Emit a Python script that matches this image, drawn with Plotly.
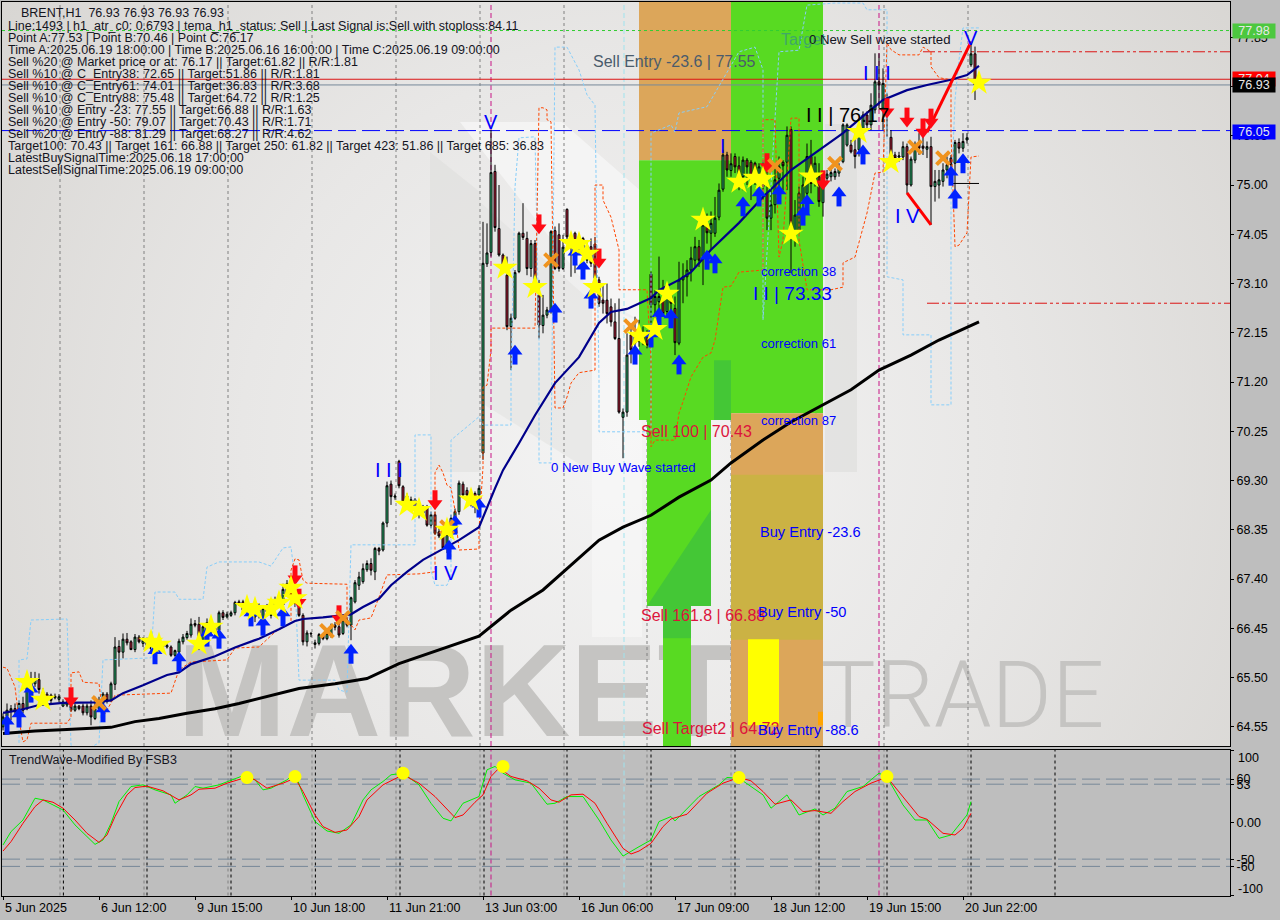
import base64
import plotly.graph_objects as go

# ---------- candles (bar index = position in the list) ----------
opens = [
64.55,64.75,64.86,64.90,64.71,65.00,64.90,65.26,65.38,65.46,
65.22,65.18,65.16,65.11,65.08,64.95,64.97,64.97,64.87,64.95,
64.95,64.82,64.95,64.71,64.90,65.00,65.18,65.06,65.37,66.10,
65.99,66.24,66.19,66.04,66.28,66.16,66.22,66.19,66.06,66.10,
66.10,66.09,66.09,65.93,65.99,66.19,66.27,66.32,66.54,66.53,
66.19,66.38,66.57,66.38,66.41,66.75,66.67,66.70,66.75,66.96,
66.96,66.77,66.83,66.67,66.86,66.66,66.86,66.70,66.83,66.93,
66.90,67.12,67.31,67.19,66.88,66.70,66.19,66.34,66.14,66.16,
66.32,66.25,66.32,66.51,66.48,66.35,66.61,66.51,66.96,67.28,
67.35,67.58,67.70,67.54,67.99,67.96,68.48,69.23,68.98,69.67,
69.18,69.00,68.83,68.93,68.83,68.67,68.80,68.44,68.64,68.31,
68.25,68.00,68.25,68.57,68.70,69.23,69.11,69.05,69.05,69.02,
69.83,73.48,73.70,75.26,74.16,73.65,73.26,72.27,72.43,73.33,
74.07,73.97,73.39,73.87,72.88,72.29,72.49,72.59,74.12,74.04,
73.39,74.53,74.00,74.07,73.78,73.97,73.55,73.81,73.86,73.17,
72.78,72.78,72.65,72.36,72.04,70.52,70.62,72.11,71.95,72.20,
71.98,72.11,73.28,72.69,72.75,72.78,72.56,72.85,72.62,71.95,
73.17,73.23,73.36,73.55,73.81,73.62,74.23,74.07,74.07,74.38,
74.92,75.58,75.28,75.55,75.37,75.16,75.48,75.44,75.42,75.16,
74.97,74.84,74.36,74.62,75.13,75.44,75.44,76.07,74.07,74.13,
74.68,74.84,75.55,75.10,75.16,74.66,75.13,75.16,75.16,75.23,
75.45,75.77,75.77,75.68,75.68,76.00,76.35,76.16,76.45,76.99,
76.48,76.67,75.92,75.58,75.54,75.54,75.74,75.00,75.48,75.79,
75.75,75.69,75.74,74.97,75.00,75.07,75.29,75.52,75.42,75.82,
75.71,75.87,77.32,77.53]
highs = [
64.81,65.00,64.97,65.00,65.06,65.13,65.58,65.61,65.61,65.58,
65.29,65.22,65.19,65.19,65.18,65.08,65.06,65.03,64.99,64.97,
65.00,65.00,65.06,65.13,65.13,65.22,65.22,65.42,66.28,66.22,
66.35,66.36,66.22,66.34,66.32,66.28,66.27,66.23,66.22,66.25,
66.19,66.16,66.12,66.04,66.25,66.34,66.40,66.64,66.61,66.67,
66.54,66.64,66.64,66.51,66.79,66.80,66.77,66.79,66.98,67.00,
67.00,66.94,66.90,66.86,66.93,66.90,66.92,67.00,67.06,67.12,
67.31,67.38,67.44,67.31,66.93,66.74,66.41,66.38,66.23,66.36,
66.35,66.41,66.54,66.57,66.54,66.67,66.66,67.06,67.38,67.54,
67.70,67.76,67.80,68.02,68.02,68.51,69.28,69.30,69.05,69.70,
69.21,69.05,68.99,68.96,68.89,68.83,68.83,68.70,68.70,68.38,
68.31,68.31,68.64,68.76,69.30,69.28,69.17,69.12,69.09,69.21,
74.29,74.26,76.06,75.39,75.00,73.68,73.62,72.52,73.36,74.10,
74.65,74.10,73.94,73.94,73.17,72.88,72.65,74.13,74.20,74.26,
74.04,74.55,74.07,74.10,74.04,74.00,73.94,73.97,74.00,73.23,
73.10,73.10,72.81,72.72,72.81,70.69,72.14,72.30,72.46,72.40,
72.27,72.20,73.33,72.97,73.62,73.17,73.04,72.94,72.85,73.52,
73.49,73.55,73.81,74.00,73.94,74.45,74.45,74.49,74.77,75.03,
75.68,75.64,75.61,75.61,75.55,75.55,75.52,75.48,75.45,75.42,
75.48,75.55,74.90,75.42,75.55,75.48,76.13,76.13,74.71,74.97,
75.16,75.80,75.87,75.55,75.42,75.23,75.29,75.32,75.32,75.42,
76.19,76.19,75.87,76.00,76.13,76.42,76.42,76.77,77.54,77.54,
77.25,76.77,76.06,75.64,75.64,75.84,75.80,75.55,75.84,76.00,
76.00,75.84,75.93,75.29,75.29,75.42,75.55,75.58,75.87,75.90,
76.00,76.00,77.77,77.67]
lows = [
64.48,64.58,64.68,64.74,64.65,64.81,64.87,65.19,65.32,65.19,
65.03,65.06,65.00,65.08,65.03,64.93,64.93,64.84,64.84,64.87,
64.77,64.77,64.58,64.68,64.87,64.97,65.00,65.03,65.26,65.71,
65.87,66.12,66.03,65.99,66.16,66.09,66.06,65.99,65.96,66.06,
66.06,66.06,65.90,65.90,65.74,66.14,66.23,66.27,66.47,66.03,
66.16,66.32,66.35,66.32,66.25,66.61,66.64,66.67,66.70,66.88,
66.74,66.70,66.57,66.57,66.64,66.61,66.70,66.64,66.77,66.86,
66.83,67.06,67.02,66.86,66.67,66.12,66.10,66.28,66.06,66.12,
66.22,66.22,66.27,66.41,66.27,66.32,66.47,66.22,66.93,67.19,
67.31,67.54,67.47,67.38,67.86,67.93,68.40,68.83,68.93,69.15,
68.83,68.80,68.73,68.67,68.57,68.60,68.41,68.38,68.25,68.19,
67.96,67.90,68.19,68.51,68.64,68.96,68.96,68.80,68.67,68.64,
69.70,73.42,73.62,74.10,73.62,73.30,72.20,71.43,72.40,73.30,
73.94,73.26,73.23,73.12,72.04,72.14,72.43,72.52,73.36,73.33,
73.36,73.94,73.23,73.30,73.65,73.36,73.49,73.42,73.04,72.65,
72.52,72.33,72.27,72.01,70.59,69.73,70.53,71.56,71.69,71.88,
71.91,71.85,72.14,72.20,72.52,72.46,72.49,72.46,71.72,71.91,
72.72,72.85,73.14,73.42,73.42,73.07,73.87,73.75,74.00,74.32,
74.87,75.16,75.16,75.23,74.90,74.90,75.00,74.71,75.00,74.78,
74.71,74.13,74.13,74.45,74.71,74.90,74.90,73.30,73.81,74.07,
74.39,74.71,74.84,74.97,74.58,74.39,75.07,75.07,75.10,75.16,
75.42,75.74,75.61,75.32,75.55,75.93,76.09,76.06,76.38,76.48,
76.06,75.93,75.52,75.45,75.45,75.48,74.84,74.97,75.42,75.58,
75.58,75.52,74.23,74.68,74.74,74.97,75.13,75.03,74.87,75.61,
75.64,75.80,77.28,76.64]
closes = [
64.74,64.87,64.90,64.84,65.00,64.87,65.42,65.45,65.46,65.27,
65.10,65.10,65.06,65.14,65.13,65.03,65.03,64.87,64.95,64.90,
64.82,64.95,64.74,64.90,65.06,65.18,65.06,65.38,66.09,65.99,
66.24,66.17,66.04,66.28,66.19,66.22,66.12,66.06,66.16,66.19,
66.14,66.12,65.93,66.02,66.20,66.28,66.35,66.53,66.51,66.28,
66.48,66.56,66.41,66.45,66.75,66.66,66.72,66.75,66.95,66.92,
66.80,66.90,66.67,66.80,66.74,66.83,66.77,66.93,66.99,67.06,
67.20,67.31,67.09,66.93,66.70,66.19,66.36,66.35,66.17,66.33,
66.25,66.35,66.49,66.47,66.32,66.61,66.51,67.04,67.33,67.44,
67.60,67.70,67.57,67.99,67.94,68.48,69.20,68.99,69.00,69.20,
68.89,68.86,68.93,68.76,68.64,68.80,68.44,68.64,68.28,68.23,
68.00,68.26,68.57,68.70,69.25,69.02,69.02,68.93,68.86,69.15,
73.49,73.69,75.24,74.18,73.65,73.36,72.27,72.43,73.31,74.07,
73.99,73.39,73.87,73.17,72.30,72.49,72.59,74.10,73.39,73.39,
73.80,74.00,73.81,73.84,73.87,73.78,73.83,73.49,73.20,72.72,
72.72,72.52,72.36,72.04,70.62,70.62,71.72,71.82,72.07,71.98,
72.14,71.91,72.69,72.85,72.85,72.52,72.85,72.72,71.96,73.17,
73.23,73.36,73.59,73.81,73.55,74.23,74.08,74.26,74.36,74.90,
75.58,75.29,75.41,75.35,75.19,75.48,75.35,75.16,75.16,75.35,
75.23,74.36,74.62,75.10,75.35,75.37,75.96,74.20,74.42,74.84,
75.00,75.55,75.03,75.42,74.68,75.10,75.21,75.24,75.26,75.32,
76.16,76.16,75.64,75.55,76.06,76.35,76.16,76.54,76.99,76.93,
76.96,76.51,75.58,75.52,75.56,75.74,75.00,75.50,75.74,75.71,
75.71,75.74,74.97,75.07,75.10,75.29,75.39,75.39,75.82,75.71,
75.84,75.91,77.53,76.93]
bars = list(range(len(closes)))

# ---------- moving averages ----------
ma_fast_i = [0,4,9,15,23,27,30,35,41,44,47,53,58,64,69,73,75,80,87,90,94,97,101,104,105,114,119,123,125,129,133,138,144,149,152,156,159,162,164,169,172,177,184,190,197,204,210,216,220,226,231,237,241,244]
ma_fast_p = [64.82,64.87,64.97,65.01,65.02,65.06,65.20,65.35,65.55,65.60,65.76,65.91,66.08,66.25,66.43,66.59,66.63,66.66,66.72,66.86,67.02,67.28,67.54,67.70,67.77,68.15,68.40,69.15,69.50,70.02,70.56,71.18,71.68,72.34,72.55,72.61,72.72,72.82,72.97,73.17,73.32,73.75,74.27,74.77,75.29,75.68,76.00,76.39,76.64,76.83,76.93,77.03,77.12,77.30]
ma_slow_i = [0,8,16,25,27,33,39,46,53,59,66,74,83,91,99,104,119,127,135,142,149,155,162,169,177,182,190,197,204,212,219,227,234,244]
ma_slow_p = [64.42,64.47,64.50,64.53,64.54,64.65,64.71,64.81,64.90,65.00,65.13,65.29,65.38,65.48,65.77,65.90,66.30,66.80,67.19,67.67,68.15,68.40,68.63,68.98,69.31,69.64,70.08,70.43,70.72,71.05,71.43,71.72,72.01,72.36]

# ---------- step bands ----------
band_low_i = [0,1,3,4,5,6,7,16,17,17,19,20,24,25,27,28,42,44,47,56,58,64,68,72,72,73,74,75,76,86,86,88,89,92,94,96,104,108,108,109,110,111,112,113,114,119,119,120,120,121,122,122,133,134,135,136,136,137,138,140,141,142,144,148,148,149,150,150,152,154,154,161,162,162,163,168,169,170,172,175,177,178,180,182,184,190,190,193,194,195,197,199,199,201,207,210,210,213,214,216,218,220,221,222,224,229,230,232,232,234,237,237,238,239,241,242,244]
band_low_p = [65.70,65.68,65.32,64.68,64.26,64.30,64.62,64.62,64.74,65.59,65.61,65.41,65.39,64.74,65.01,65.16,65.20,65.65,65.80,65.84,66.07,66.09,66.38,66.55,67.57,67.79,67.77,67.38,67.32,67.30,66.61,66.42,66.61,66.65,67.05,67.48,67.50,67.54,69.45,69.60,69.45,69.21,69.16,68.73,67.96,67.98,68.35,69.56,71.10,71.14,71.82,72.24,72.24,76.49,76.49,76.45,76.26,76.22,70.70,70.70,70.91,71.18,71.38,71.43,75.00,75.00,75.00,74.71,74.38,73.75,72.98,72.98,71.62,69.95,70.08,70.08,70.60,70.82,71.30,71.68,71.76,72.01,73.03,73.05,73.32,73.36,76.26,76.26,73.61,73.94,76.29,76.29,73.94,72.98,72.98,73.03,73.50,73.61,73.88,74.46,75.23,75.25,77.74,77.61,77.51,77.51,77.66,77.57,77.28,77.07,77.03,76.00,73.81,73.84,74.08,75.54,75.56]
band_up_i = [4,4,6,7,16,17,17,18,24,24,25,37,38,43,44,50,51,54,64,67,70,72,73,74,83,84,86,87,102,103,103,107,107,108,111,112,112,119,120,127,127,128,129,133,134,134,137,138,141,144,146,148,149,149,149,159,162,162,167,168,169,176,184,188,190,190,194,199,201,208,215,216,221,221,225,225,232,232,237,237,238,239,240,244]
band_up_p = [64.24,65.84,65.86,66.61,66.63,64.55,64.20,64.00,64.24,64.24,65.84,65.88,67.15,67.15,67.01,67.01,67.63,67.73,67.73,67.65,68.00,68.02,67.38,65.45,65.45,65.26,65.22,68.06,68.06,68.06,70.18,70.18,67.57,67.28,67.28,67.48,70.08,70.53,70.37,70.37,71.24,74.96,75.91,75.93,72.01,69.64,69.64,77.66,77.66,77.22,76.74,76.54,71.24,71.05,70.24,70.24,70.24,76.00,76.16,76.02,76.39,76.51,77.57,77.66,77.22,72.40,77.57,77.60,78.47,78.51,78.51,78.38,78.38,73.23,73.17,72.11,72.11,70.76,70.76,74.71,76.64,77.41,78.03,78.03]

# ---------- signal markers ----------
star_i = [6,10,37,39,49,52,61,63,67,69,72,73,101,104,111,117,125.5,133,142,144,146,148,159,163,166,175,184,188,190,197,202,214,222,244]
star_p = [65.41,65.07,66.19,66.13,66.15,66.48,66.86,66.82,66.82,66.94,67.23,67.03,68.83,68.73,68.35,68.93,73.40,73.03,73.88,73.86,73.67,73.03,72.09,72.22,72.90,74.33,75.06,75.14,75.12,74.06,75.16,76.02,75.44,76.97]
up_i = [1,4,7,25,38,44,51,54,62,65,70,87,111.5,113,119,128,138,143,145,147,158,162,164,167,169,176,178,185,189,194,200,201,209,215,237,238,240]
up_p = [64.58,64.72,65.20,64.82,65.94,65.80,66.28,66.24,66.67,66.49,66.67,65.95,67.96,68.44,68.77,71.72,72.53,73.63,73.36,72.80,71.72,72.05,72.44,72.42,71.53,73.55,73.48,74.58,74.77,74.81,74.40,74.62,74.77,75.58,75.17,74.73,75.41]
down_i = [17,73,74,84,108,134,149,191,205,221,226,232,230]
down_p = [65.13,67.48,67.03,66.71,68.93,74.25,73.59,75.43,75.10,76.49,76.31,76.29,76.10]
cross_i = [24,81,85,111,137,157,193,208,228,235]
cross_p = [65.01,66.40,66.65,68.40,73.55,72.28,75.37,75.41,75.73,75.52]

# ---------- wave legs ----------
leg4_i = [226,232]
leg4_p = [74.85,74.23]
leg5_i = [231,242]
leg5_p = [76.02,77.76]
stub_i = [237,244]
stub_p = [75.03,75.03]

# ---------- oscillator ----------
osc_red_i = [0,2,5,8,10,12.5,15,18,21,24,26,28,31,33,36,40,44,47,49,53,56,61,63,66,70,73,75,78,80,83,86,89,91,95,100,104,108,113,115,118,120,122,124,127,131,134,137,139,142,145,148,151,155,157,159,162,165,167,171,176,180,184,187,190,193,197,200,203,207,210,213,217,221,224,229,231,235,238,240,242]
osc_red_v = [-38.9,-26.0,-0.7,22.2,31.4,28.2,20,3.8,-14.5,-27,-16.8,8.5,38.3,48.4,50.3,43.9,31.4,38.3,46.1,47.5,54.4,62.7,59,47.5,54.4,61.3,42.9,10.7,-5.3,-13.2,-9.9,8.5,31.4,52.1,65.9,54.4,36,7.1,10.7,28.2,38.3,63.6,75.1,63.6,57.6,47.5,31.4,28.2,38.3,39.3,26.8,-0.7,-35.2,-43,-38.9,-28.3,-5.3,5.2,11.7,40.6,54.4,62.2,57.6,42.9,25.5,31.4,15.3,16.7,13,29.1,42.9,54.4,62.7,42.9,8.5,4.8,-14.5,-16.8,-7.6,13]
osc_green_i = [0,2,5,8,10,15,18,21,23,25,27,29,32,35,38,42,43,46,48,50,54,60,63,65,67,71,73,75,78,81,84,87,90,92,95,97,100,104,107,110,112,115,119,121,123,125,128,132,136,138,141,145,149,152,155,159,162,164,167,168,174,179,181,184,190,192,196,199,203,205,208,211,215,219,221,225,228,231,234,237,241,242]
osc_green_v = [-30.6,-12.2,3.8,33.7,31.4,17.6,-3,-19.1,-29.7,-23.7,-0.7,29.1,49.8,52.1,45.2,38.3,26.8,38.3,49.8,47.5,52.1,64.6,59,45.2,47.5,59,68.2,38.3,1.6,-11.3,-14.5,-3,31.4,45.2,56.7,65.9,68.2,52.1,26.8,6.2,2.5,26.8,36,72.8,77.4,68.2,59,54.4,25.5,26.8,36,36,3.8,-23.7,-45.8,-32.9,-23.7,1.6,8.5,2.5,36,52.1,62.2,61.3,38.3,20,38.3,10.7,19,10.7,20,42.9,49.8,68.2,62.7,24.5,3.8,3.8,-21.4,-16.8,10.7,29.1]
osc_dot_i = [61,73,100,125,184,221]
osc_dot_v = [62.2,63.6,68.2,77.4,62.2,63.6]
osc_levels = [60,53,-50,-60]

# ---------- levels, grid, axes ----------
price_ticks = [64.55,65.50,66.45,67.40,68.35,69.30,70.25,71.20,72.15,73.10,74.05,75.00,75.95,76.90,77.85]
time_tick_bars = [0,24,48,72,96,120,144,168,192,216,240]
time_tick_text = ["5 Jun 2025","6 Jun 12:00","9 Jun 15:00","10 Jun 18:00","11 Jun 21:00","13 Jun 03:00","16 Jun 06:00","17 Jun 09:00","18 Jun 12:00","19 Jun 15:00","20 Jun 22:00"]
grid_gray = [14.25,35.25,56.25,77.25,98.25,119.25,140.25,161,182,203.25,220.25,241.25]
grid_black = [15.1,36,57,78.1,99.25,120.25,141,162,183,204,221,242,263]
magenta_bars = [122,219]
cyan_bars = [155.25]

info_lines = [
"Line:1493 | h1_atr_c0: 0.6793 | tema_h1_status: Sell | Last Signal is:Sell with stoploss:84.11",
"Point A:77.53 | Point B:70.46 | Point C:76.17",
"Time A:2025.06.19 18:00:00 | Time B:2025.06.16 16:00:00 | Time C:2025.06.19 09:00:00",
"Sell %20 @ Market price or at: 76.17 || Target:61.82 || R/R:1.81",
"Sell %10 @ C_Entry38: 72.65 || Target:51.86 || R/R:1.81",
"Sell %10 @ C_Entry61: 74.01 || Target:36.83 || R/R:3.68",
"Sell %10 @ C_Entry88: 75.48 || Target:64.72 || R/R:1.25",
"Sell %10 @ Entry -23: 77.55 || Target:66.88 || R/R:1.63",
"Sell %20 @ Entry -50: 79.07 || Target:70.43 || R/R:1.71",
"Sell %20 @ Entry -88: 81.29 || Target:68.27 || R/R:4.62",
"Target100: 70.43 || Target 161: 66.88 || Target 250: 61.82 || Target 423: 51.86 || Target 685: 36.83",
"LatestBuySignalTime:2025.06.18 17:00:00",
"LatestSellSignalTime:2025.06.19 09:00:00",
]

FONT = "Liberation Sans"
TXT = 12.5
W, H = 1280, 920
def px(x): return x / W
def py(y): return 1 - y / H

# ---------- background picture ----------
svg = """<svg xmlns='http://www.w3.org/2000/svg' width='1228' height='744'>
<defs><radialGradient id='g' gradientUnits='userSpaceOnUse' cx='620' cy='440' r='760'>
<stop offset='0' stop-color='#f4f4f4'/><stop offset='0.5' stop-color='#e8e7e6'/><stop offset='1' stop-color='#d8d6d3'/></radialGradient></defs>
<rect width='1228' height='744' fill='url(#g)'/>
<polygon points='458,120 560,120 640,190 640,320 590,290' fill='#f8f8f8' opacity='0.7'/>
<polygon points='428,150 478,190 478,470 428,470' fill='#dcdbd9' opacity='0.45'/>
<polygon points='590,300 640,320 640,635 590,635' fill='#fafafa' opacity='0.45'/>
<polygon points='823,122 855,122 855,470 823,470' fill='#dad9d7' opacity='0.5'/>
<polygon points='478,200 590,300 590,470 478,400' fill='#e2e2e1' opacity='0.6'/>
</svg>"""
bg_uri = "data:image/svg+xml;base64," + base64.b64encode(svg.encode()).decode()

fig = go.Figure()

fig.add_trace(go.Candlestick(
    x=bars, open=opens, high=highs, low=lows, close=closes,
    increasing=dict(line=dict(color="#000000", width=1), fillcolor="#2FC47A"),
    decreasing=dict(line=dict(color="#000000", width=1), fillcolor="#C4203E"),
    whiskerwidth=0, hoverinfo="skip", showlegend=False, xaxis="x", yaxis="y"))

def line(xs, ys, color, width, dash="solid", axis=("x", "y"), shape="linear"):
    fig.add_trace(go.Scatter(x=xs, y=ys, mode="lines", showlegend=False, hoverinfo="skip",
                             line=dict(color=color, width=width, dash=dash, shape=shape),
                             xaxis=axis[0], yaxis=axis[1]))

def marks(xs, ys, symbol, color, size, axis=("x", "y"), mline=None):
    fig.add_trace(go.Scatter(x=xs, y=ys, mode="markers", showlegend=False, hoverinfo="skip",
                             marker=dict(symbol=symbol, color=color, size=size,
                                         line=mline or dict(width=0)),
                             xaxis=axis[0], yaxis=axis[1]))

line(band_up_i, band_up_p, "#87CEFA", 1, "3px,2px")
line(band_low_i, band_low_p, "#FF4500", 1, "3px,2px")
line(ma_slow_i, ma_slow_p, "#000000", 3)
line(ma_fast_i, ma_fast_p, "#00008B", 2.2)
line(leg4_i, leg4_p, "#FF0000", 3)
line(leg5_i, leg5_p, "#FF0000", 3)
line(stub_i, stub_p, "#000000", 1)

# an arrow = a stem plus a head, both hung on the signal's own price
STEP = 0.075
marks(up_i, [p - STEP for p in up_p], "line-ns", "#0022FF", 8, mline=dict(color="#0022FF", width=5))
marks(up_i, [p + STEP for p in up_p], "triangle-up", "#0022FF", 13)
marks(down_i, [p + STEP for p in down_p], "line-ns", "#FF0A14", 8, mline=dict(color="#FF0A14", width=5))
marks(down_i, [p - STEP for p in down_p], "triangle-down", "#FF0A14", 13)
marks(cross_i, cross_p, "x-thin", "#F0931E", 13, mline=dict(color="#F0931E", width=4))
marks(star_i, star_p, "star", "#FFFF00", 19)

lower = ("x2", "y2")
line(osc_green_i, osc_green_v, "#00F000", 1, axis=lower)
line(osc_red_i, osc_red_v, "#FF0000", 1, axis=lower)
marks(osc_dot_i, osc_dot_v, "circle", "#FFFF00", 13, axis=lower)

# ---------- shapes ----------
shapes = []
def text_box(x0, x1, y0, y1, text, size, family, color, weight):
    shapes.append(dict(type="rect", xref="paper", yref="paper", layer="below",
                       x0=px(x0), x1=px(x1), y0=py(y1), y1=py(y0), line=dict(width=0),
                       fillcolor="rgba(0,0,0,0)",
                       label=dict(text=text, textposition="middle center",
                                  font=dict(family=family, size=size, color=color, weight=weight))))
text_box(165, 830, 618, 738, "MARKETZ", 131, "Liberation Sans", "#c5c4c2", 700)
text_box(815, 1110, 640, 736, "TRADE", 92, "Roboto", "#c5c4c2", 300)

def zone(i0, i1, p0, p1, color):
    shapes.append(dict(type="rect", xref="x", yref="y", layer="below", x0=i0, x1=i1, y0=p0, y1=p1,
                       fillcolor=color, line=dict(width=0)))
GREEN, DARK, TAN = "#58DA22", "#44C736", "#DCA65A"
zone(159, 182, 75.48, 78.53, TAN)
zone(182, 205, 70.60, 78.53, GREEN)
zone(159, 182, 70.47, 75.48, GREEN)
zone(177.75, 182, 70.47, 71.62, DARK)
zone(161, 177, 66.88, 70.47, GREEN)
shapes.append(dict(type="path", xref="x", yref="y", layer="below",
                   path="M 161 66.88 L 177 68.73 L 177 66.88 Z", fillcolor=DARK, line=dict(width=0)))
zone(165, 172, 64.18, 66.88, GREEN)
zone(165, 172, 66.26, 66.88, DARK)
zone(182, 205, 64.18, 70.60, TAN)
zone(182, 205, 66.23, 69.41, "#CBB244")
zone(186.25, 194, 64.58, 66.24, "#FFFF00")
zone(203.75, 205, 64.58, 64.84, "#FFA500")

def vline(i, color, dash, yref):
    shapes.append(dict(type="line", xref="x" if yref == "y domain" else "x2", yref=yref, layer="below",
                       x0=i, x1=i, y0=0, y1=1, line=dict(color=color, width=1, dash=dash)))
for i in grid_gray:
    vline(i, "#808080", "3px,3px", "y domain")
    vline(i, "#808080", "3px,3px", "y2 domain")
for i in grid_black:
    vline(i, "#000000", "3px,3px", "y2 domain")
for i in magenta_bars:
    vline(i, "#C71585", "5px,3px", "y domain")
    vline(i, "#C71585", "5px,3px", "y2 domain")
for i in cyan_bars:
    vline(i, "#9FE3EE", "5px,3px", "y domain")
    vline(i, "#9FE3EE", "5px,3px", "y2 domain")

def hline(p, color, dash, width=1, i0=-0.25, i1=306.75):
    shapes.append(dict(type="line", xref="x", yref="y", layer="below", x0=i0, x1=i1, y0=p, y1=p,
                       line=dict(color=color, width=width, dash=dash)))
hline(77.98, "#32CD32", "3px,3px")
hline(77.57, "#DC1414", "12px,3px,3px,3px,3px,3px", i0=230)
hline(77.04, "#DC1414", "solid")
hline(76.93, "#778899", "solid")
hline(76.05, "#0000FF", "18px,6px")
hline(72.72, "#DC1414", "12px,3px,3px,3px,3px,3px", i0=231)
for v in osc_levels:
    shapes.append(dict(type="line", xref="x2", yref="y2", layer="below", x0=-0.25, x1=306.75, y0=v, y1=v,
                       line=dict(color="#778899", width=1, dash="18px,6px")))

# ---------- text ----------
ann = []
def label(x, y, text, size=TXT, color="#000000", xanchor="left", family=FONT, **kw):
    ann.append(dict(xref="paper", yref="paper", x=px(x), y=py(y), text=text, showarrow=False,
                    xanchor=xanchor, yanchor="middle", font=dict(family=family, size=size, color=color),
                    borderpad=0, **kw))

label(20, 12.7, "BRENT,H1  76.93 76.93 76.93 76.93", color="#14141e")
for n, t in enumerate(info_lines):
    label(7, 25.7 + 12 * n, t, color="#14141e")

SL, CR, BL = "#4A5B6C", "#DC143C", "#0000FF"
label(592, 62, "Sell Entry -23.6 | 77.55", 16, SL)
label(640, 431, "Sell 100 | 70.43", 16, CR)
label(640, 615, "Sell 161.8 | 66.88", 16, CR)
label(641, 728, "Sell Target2 | 64.72", 16, CR)
label(759, 532, "Buy Entry -23.6", 14.6, BL)
label(757, 612, "Buy Entry -50", 14.6, BL)
label(757, 730, "Buy Entry -88.6", 14.6, BL)
label(760, 271, "correction 38", 13, BL)
label(760, 343, "correction 61", 13, BL)
label(760, 421, "correction 87", 13, BL)
label(752, 293, "I I | 73.33", 19, BL)
label(805, 115, "I I | 76.17", 20, "#000000")
label(780, 39, "Target", 16, "#3FA868")
label(808, 39, "0 New Sell wave started", 13.2, "#14141e")
label(550, 468, "0 New Buy Wave started", 13.2, BL)
label(491, 122, "V", 20, BL, "center")
label(389, 470, "I I I", 20, BL, "center")
label(445, 573, "I V", 20, BL, "center")
label(877, 73, "I I I", 20, BL, "center")
label(907, 216, "I V", 20, BL, "center")
label(971, 38, "V", 20, BL, "center")
label(723, 146, "I", 20, BL, "center")
label(8, 760, "TrendWave-Modified By FSB3", TXT, "#14141e")

for b, t in zip(time_tick_bars, time_tick_text):
    ann.append(dict(xref="x2", yref="paper", x=b, y=py(908), text=t, showarrow=False, xanchor="left",
                    yanchor="middle", font=dict(family=FONT, size=TXT, color="#000000")))
label(1237, 757.5, "100")
label(1237, 888.5, "-100")

def tag(y, text, bg, fg="#E8E8E8"):
    ann.append(dict(xref="paper", yref="paper", x=px(1232), y=py(y), text=text, showarrow=False,
                    xanchor="left", yanchor="middle", width=42, height=14, align="center",
                    bgcolor=bg, borderpad=0, font=dict(family=FONT, size=TXT, color=fg)))
tag(31, "77.98", "#4CC83F")
tag(79, "77.04", "#FF0000")
tag(85, "76.93", "#000000")
tag(132, "76.05", "#0000FF")

fig.update_layout(
    width=W, height=H, margin=dict(l=0, r=0, t=0, b=0),
    paper_bgcolor="#BEBEBE", plot_bgcolor="#BEBEBE", showlegend=False,
    font=dict(family=FONT, size=TXT, color="#000000"),
    images=[dict(source=bg_uri, xref="paper", yref="paper", x=px(2), y=py(2),
                 sizex=1228 / W, sizey=744 / H, xanchor="left", yanchor="top",
                 sizing="stretch", layer="below")],
    shapes=shapes, annotations=ann,
    xaxis=dict(domain=[px(2), px(1230)], range=[-0.25, 306.75], anchor="y", showgrid=False, zeroline=False,
               showticklabels=False, ticks="", showline=True, linecolor="#000000", mirror=True,
               rangeslider=dict(visible=False)),
    xaxis2=dict(domain=[px(2), px(1230)], range=[-0.25, 306.75], anchor="y2", showgrid=False, zeroline=False,
                tickmode="array", tickvals=time_tick_bars, showticklabels=False, ticks="outside", ticklen=3,
                tickcolor="#000000", showline=True, linecolor="#000000", mirror=True),
    yaxis=dict(domain=[py(746), py(2)], range=[64.18, 78.53], side="right", anchor="x", showgrid=False,
               zeroline=False, tickmode="array", tickvals=price_ticks, ticktext=[f"{v:.2f}" for v in price_ticks],
               ticks="outside", ticklen=3, tickcolor="#000000", showline=True, linecolor="#000000", mirror=True,
               tickfont=dict(family=FONT, size=TXT, color="#000000")),
    yaxis2=dict(domain=[py(895.5), py(750)], range=[-100, 100], side="right", anchor="x2", showgrid=False,
                zeroline=False, tickmode="array", tickvals=[100, 60, 53, 0, -50, -60, -100],
                ticktext=["", "60", "53", "0.00", "-50", "-60", ""],
                ticks="outside", ticklen=3, tickcolor="#000000", showline=True, linecolor="#000000", mirror=True,
                tickfont=dict(family=FONT, size=TXT, color="#000000")),
)

fig.write_html("out.html", config=dict(displayModeBar=False),
               post_script="document.body.style.margin='0';")
